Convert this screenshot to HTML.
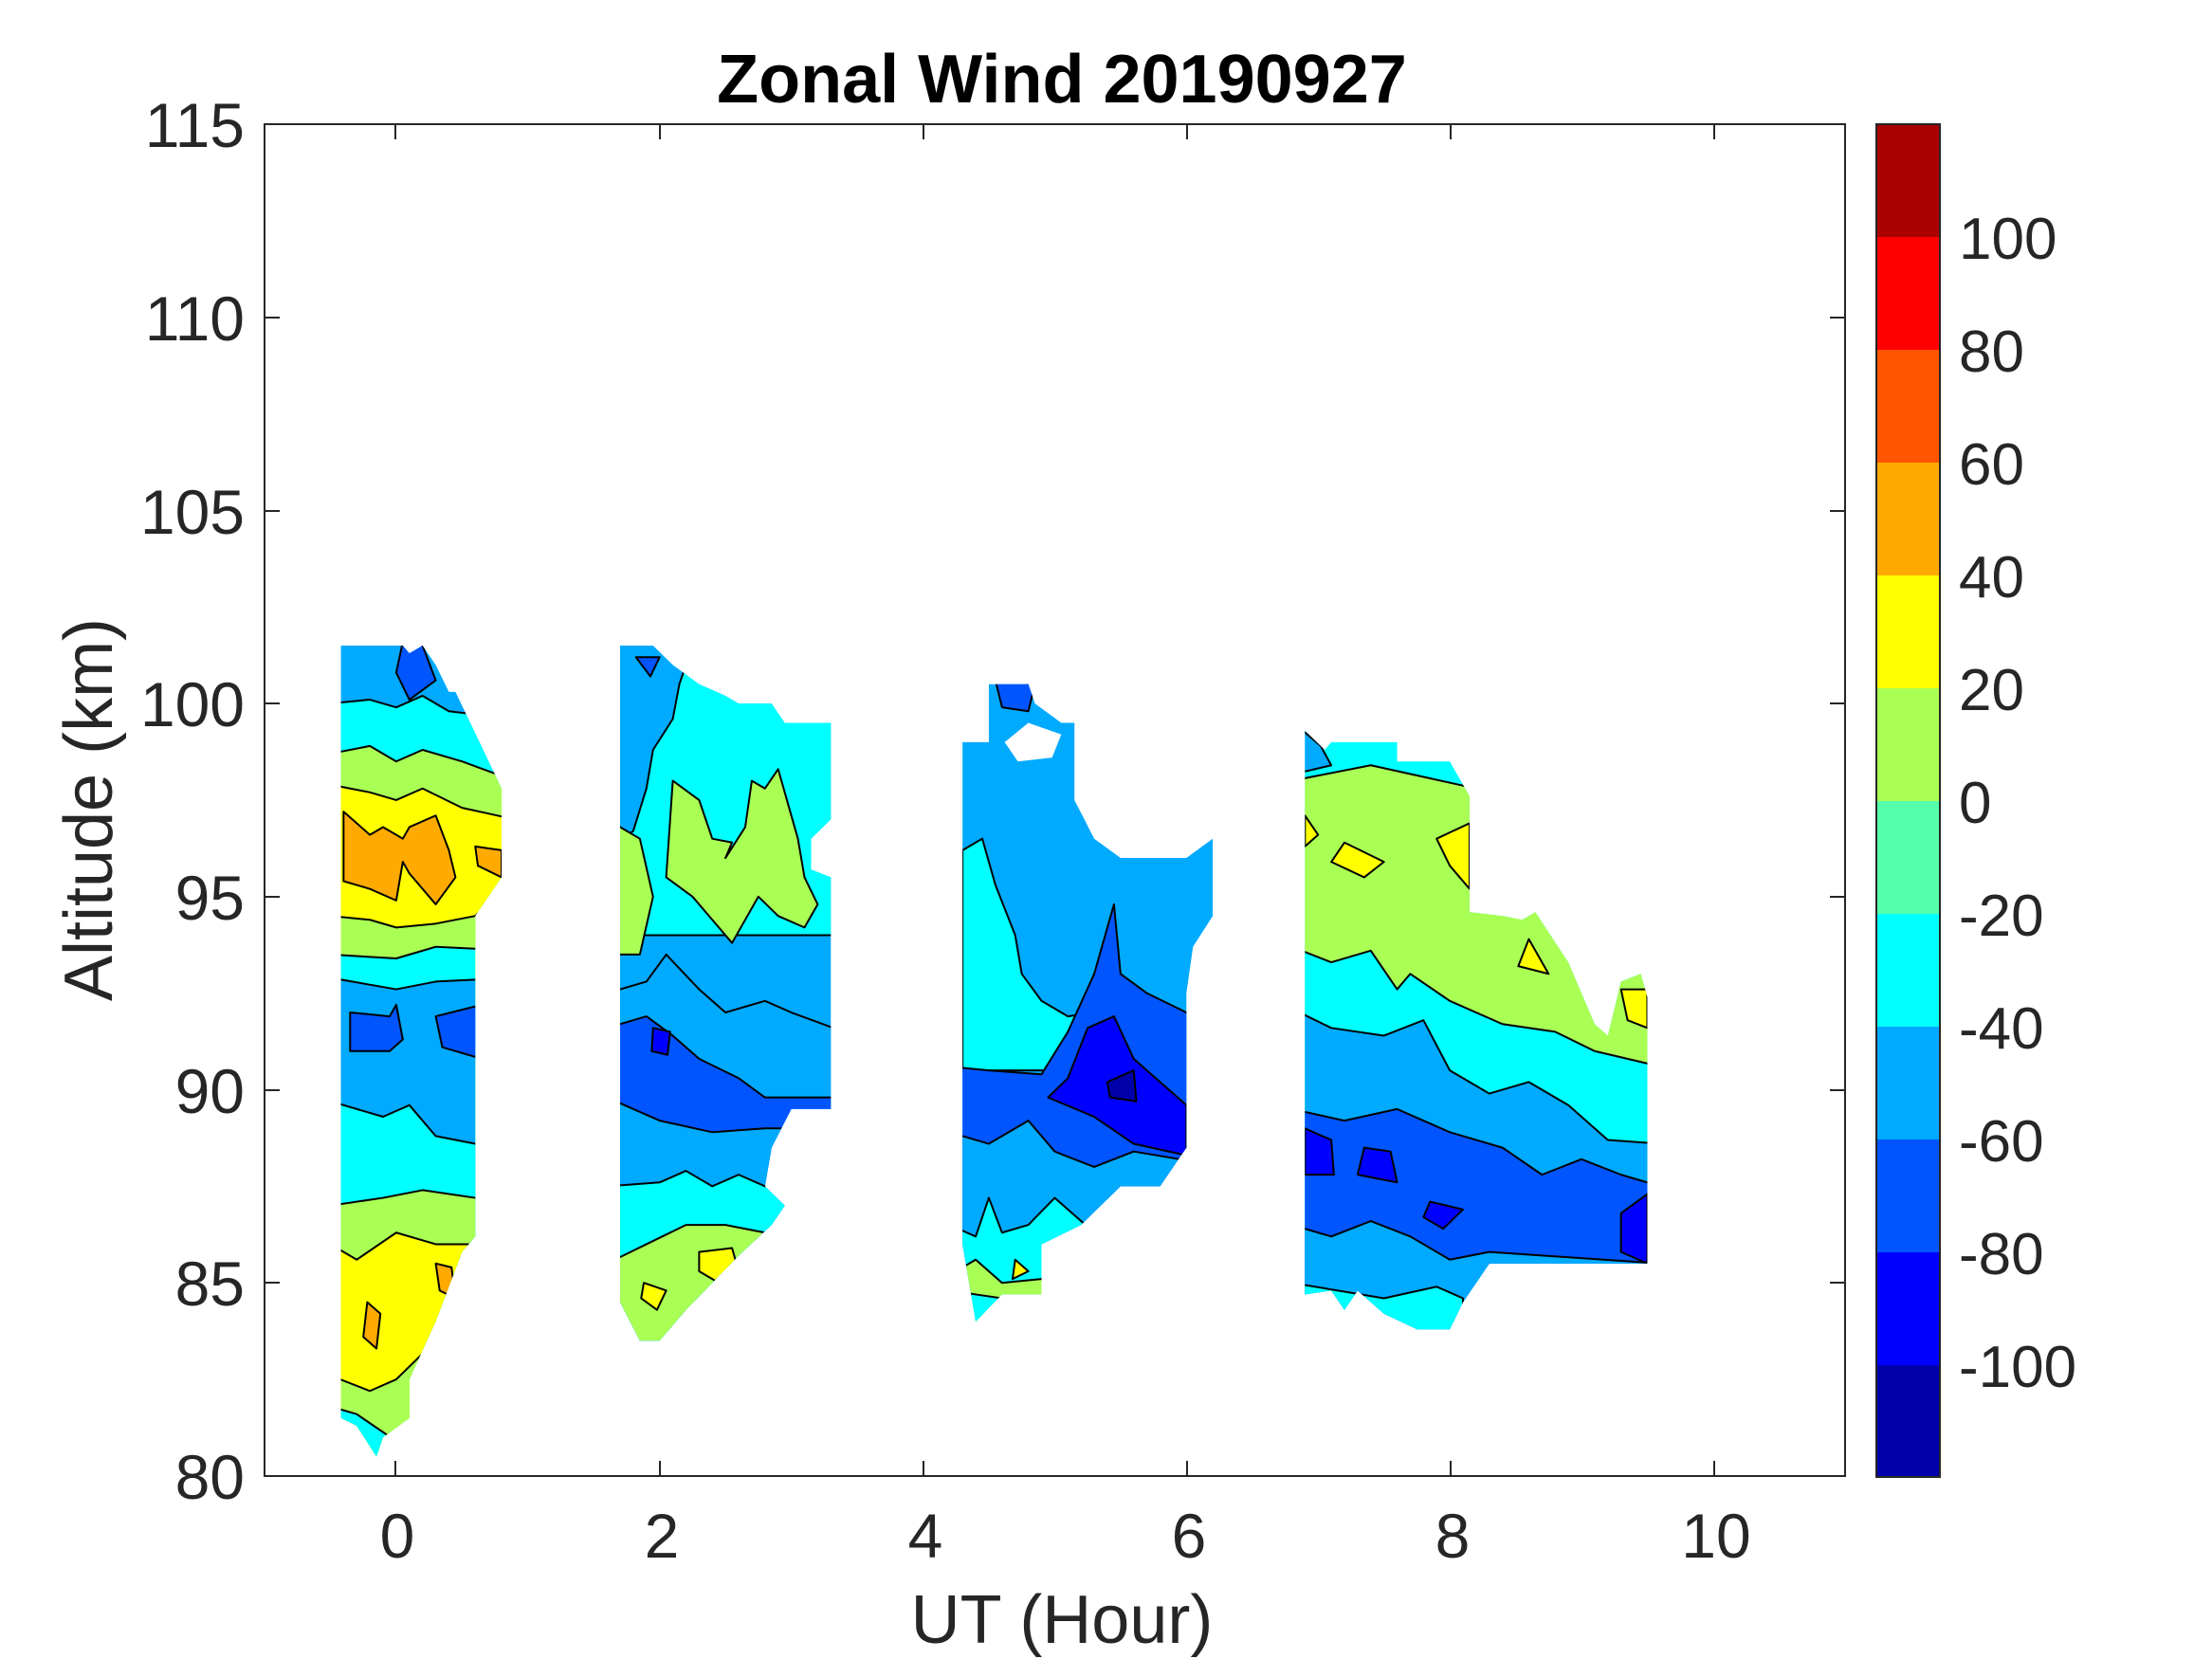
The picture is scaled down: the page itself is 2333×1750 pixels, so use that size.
<!DOCTYPE html>
<html><head><meta charset="utf-8"><style>
html,body{margin:0;padding:0;background:#fff;overflow:hidden;}
svg{display:block;}
text{font-family:"Liberation Sans",Arial,sans-serif;fill:#262626;}
.c{stroke:#000;stroke-width:2;vector-effect:non-scaling-stroke;stroke-linejoin:round;}
</style></head><body>
<svg width="2333" height="1750" viewBox="0 0 2333 1750" xmlns="http://www.w3.org/2000/svg">
<rect width="2333" height="1750" fill="#fff"/>
<defs>
<clipPath id="b1"><polygon points="-0.42,101.5 0.05,101.5 0.1,101.3 0.2,101.5 0.3,101 0.4,100.3 0.45,100.3 0.8,97.8 0.8,95.5 0.6,94.5 0.6,86.2 0.5,85.8 0.3,84 0.1,82.5 0.1,81.5 -0.1,81 -0.15,80.5 -0.3,81.3 -0.42,81.5"/></clipPath>
<clipPath id="b2"><polygon points="1.7,101.5 1.95,101.5 2.1,101 2.3,100.5 2.5,100.2 2.6,100 2.85,100 2.95,99.5 3.3,99.5 3.3,97 3.15,96.5 3.15,95.7 3.3,95.5 3.3,89.5 3.0,89.5 2.85,88.5 2.8,87.5 2.95,87 2.85,86.5 2.6,85.7 2.4,85 2.2,84.3 2.0,83.5 1.85,83.5 1.7,84.5"/></clipPath>
<clipPath id="b3"><polygon points="4.3,99 4.5,99 4.5,100.5 4.8,100.5 4.85,100 5.05,99.5 5.15,99.5 5.15,97.5 5.3,96.5 5.5,96 6.0,96 6.2,96.5 6.2,94.5 6.05,93.7 6.0,92.5 6.0,88.5 5.8,87.5 5.5,87.5 5.2,86.5 4.9,86 4.9,84.7 4.6,84.7 4.4,84 4.3,86"/></clipPath>
<clipPath id="b4"><polygon points="6.9,99.3 7.05,98.8 7.1,99 7.6,99 7.6,98.5 8.0,98.5 8.15,97.6 8.15,94.6 8.4,94.5 8.55,94.4 8.65,94.6 8.9,93.3 9.1,91.7 9.2,91.4 9.3,92.8 9.45,93 9.5,92.4 9.5,85.5 8.3,85.5 8.1,84.5 8.0,83.8 7.75,83.8 7.5,84.2 7.3,84.8 7.2,84.3 7.1,84.8 6.9,84.7 6.9,86"/></clipPath>
</defs>
<g transform="matrix(138.9 0 0 -40.74 417.9 4816.1)">
<g clip-path="url(#b1)">
<rect x="-1" y="79" width="3" height="24" fill="#00AAFF"/>
<polygon class="c" fill="#0055FF" points="0.05,101.6 0.2,101.5 0.3,100.6 0.1,100.1 0.0,100.8"/>
<polygon class="c" fill="#00FFFF" points="-0.5,100 -0.2,100.1 0,99.9 0.2,100.2 0.4,99.8 0.9,99.6 0.9,70 -0.5,70"/>
<polygon class="c" fill="#AAFF55" points="-0.5,98.7 -0.2,98.9 0,98.5 0.2,98.8 0.5,98.5 0.9,98 0.9,70 -0.5,70"/>
<polygon class="c" fill="#FFFF00" points="-0.5,97.9 -0.2,97.7 0,97.5 0.2,97.8 0.5,97.3 0.9,97 0.9,70 -0.5,70"/>
<polygon class="c" fill="#FFAA00" points="-0.4,97.2 -0.2,96.6 -0.1,96.8 0.05,96.5 0.1,96.8 0.3,97.1 0.4,96.2 0.45,95.5 0.3,94.8 0.1,95.6 0.05,95.9 0,94.9 -0.2,95.2 -0.4,95.4"/>
<polygon class="c" fill="#FFAA00" points="0.6,96.3 0.8,96.2 0.8,95.5 0.62,95.8"/>
<polygon class="c" fill="#AAFF55" points="-0.5,94.5 -0.2,94.4 0,94.2 0.3,94.3 0.6,94.5 0.9,95.5 0.9,70 -0.5,70"/>
<polygon class="c" fill="#00FFFF" points="-0.5,93.5 0,93.4 0.3,93.7 0.9,93.6 0.9,70 -0.5,70"/>
<polygon class="c" fill="#00AAFF" points="-0.5,92.9 0,92.6 0.3,92.8 0.9,92.9 0.9,70 -0.5,70"/>
<polygon class="c" fill="#0055FF" points="-0.35,92 -0.05,91.9 0,92.2 0.05,91.3 -0.05,91 -0.35,91"/>
<polygon class="c" fill="#0055FF" points="0.3,91.9 0.65,92.2 0.65,90.8 0.35,91.1"/>
<polygon class="c" fill="#00FFFF" points="-0.5,89.7 -0.1,89.3 0.1,89.6 0.3,88.8 0.6,88.6 0.9,88.6 0.9,70 -0.5,70"/>
<polygon class="c" fill="#AAFF55" points="-0.5,87 -0.1,87.2 0.2,87.4 0.6,87.2 0.9,87 0.9,70 -0.5,70"/>
<polygon class="c" fill="#FFFF00" points="-0.5,86 -0.3,85.6 0,86.3 0.3,86 0.6,86 0.9,86 0.9,70 -0.5,70"/>
<polygon class="c" fill="#FFAA00" points="0.3,85.5 0.42,85.4 0.45,84.6 0.33,84.8"/>
<polygon class="c" fill="#FFAA00" points="-0.22,84.5 -0.12,84.2 -0.15,83.3 -0.25,83.6"/>
<polygon class="c" fill="#AAFF55" points="-0.5,82.6 -0.2,82.2 0,82.5 0.3,83.5 0.9,84 0.9,70 -0.5,70"/>
<polygon class="c" fill="#00FFFF" points="-0.5,81.8 -0.3,81.6 0,80.9 0.9,80 0.9,70 -0.5,70"/>
</g>
<g clip-path="url(#b2)">
<rect x="1" y="79" width="3" height="24" fill="#00AAFF"/>
<polygon class="c" fill="#0055FF" points="1.82,101.2 2.0,101.2 1.93,100.7"/>
<polygon class="c" fill="#00FFFF" points="2.2,101 2.7,100.5 3.4,100 3.4,94 1.6,94 1.6,96.2 1.8,96.7 1.9,97.8 1.95,98.8 2.1,99.6 2.15,100.5"/>
<polygon class="c" fill="#AAFF55" points="1.6,97 1.85,96.5 1.95,95 1.85,93.5 1.6,93.5"/>
<polygon class="c" fill="#AAFF55" points="2.1,98 2.3,97.5 2.4,96.5 2.55,96.4 2.5,96 2.65,96.8 2.7,98 2.8,97.8 2.9,98.3 3.05,96.5 3.1,95.5 3.2,94.8 3.1,94.2 2.9,94.5 2.75,95 2.55,93.8 2.35,94.6 2.25,95 2.05,95.5"/>
<polygon class="c" fill="#00AAFF" points="1.6,92.5 1.9,92.8 2.05,93.5 2.3,92.6 2.5,92 2.8,92.3 3.0,92 3.4,91.5 3.4,70 1.6,70"/>
<polygon class="c" fill="#0055FF" points="1.6,91.6 1.9,91.9 2.1,91.4 2.3,90.8 2.6,90.3 2.8,89.8 3.4,89.8 3.4,70 1.6,70"/>
<polygon class="c" fill="#0000FF" points="1.95,91.6 2.08,91.5 2.06,90.9 1.94,91"/>
<polygon class="c" fill="#00AAFF" points="1.6,89.8 2,89.2 2.4,88.9 2.8,89 3.4,89 3.4,70 1.6,70"/>
<polygon class="c" fill="#00FFFF" points="1.6,87.5 2,87.6 2.2,87.9 2.4,87.5 2.6,87.8 2.8,87.5 3.4,87.3 3.4,70 1.6,70"/>
<polygon class="c" fill="#AAFF55" points="1.6,85.5 1.9,86 2.2,86.5 2.5,86.5 2.8,86.3 3.4,86 3.4,70 1.6,70"/>
<polygon class="c" fill="#FFFF00" points="2.3,85.8 2.55,85.9 2.6,85.3 2.45,85 2.3,85.3"/>
<polygon class="c" fill="#FFFF00" points="1.88,85 2.05,84.8 1.98,84.3 1.86,84.6"/>
</g>
<g clip-path="url(#b3)">
<rect x="4" y="79" width="3" height="24" fill="#00AAFF"/>
<polygon class="c" fill="#0055FF" points="4.55,100.6 4.85,100.5 4.8,99.8 4.6,99.9"/>
<polygon fill="#fff" points="4.62,99 4.8,99.5 5.05,99.2 4.98,98.6 4.72,98.5"/>
<polygon class="c" fill="#00FFFF" points="4.3,96.2 4.45,96.5 4.55,95.3 4.7,94 4.75,93 4.9,92.3 5.1,91.9 5.3,92 5.35,91.5 5.2,90.5 4.3,90.5"/>
<polygon class="c" fill="#0055FF" points="4.2,90.6 4.5,90.5 4.9,90.4 5.1,91.5 5.3,93 5.45,94.8 5.5,93 5.7,92.5 6.0,92 6.3,92 6.3,70 4.2,70"/>
<polygon class="c" fill="#0000FF" points="4.95,89.8 5.1,90.3 5.25,91.6 5.45,91.9 5.6,90.8 5.8,90.2 6.0,89.6 6.0,88.3 5.6,88.6 5.3,89.3"/>
<polygon class="c" fill="#0000AA" points="5.4,90.2 5.6,90.5 5.62,89.7 5.42,89.8"/>
<polygon class="c" fill="#00AAFF" points="4.2,88.9 4.5,88.6 4.8,89.2 5.0,88.4 5.3,88 5.6,88.4 6.3,88 6.3,70 4.2,70"/>
<polygon class="c" fill="#00FFFF" points="4.2,86.5 4.4,86.2 4.5,87.2 4.6,86.3 4.8,86.5 5.0,87.2 5.3,86.3 6.3,86 6.3,70 4.2,70"/>
<polygon class="c" fill="#AAFF55" points="4.2,85.2 4.4,85.6 4.6,85 4.9,85.1 6.3,85 6.3,70 4.2,70"/>
<polygon class="c" fill="#FFFF00" points="4.7,85.6 4.8,85.3 4.68,85.1"/>
<polygon class="c" fill="#00FFFF" points="4.2,84.8 4.8,84.5 6.3,84 6.3,70 4.2,70"/>
</g>
<g clip-path="url(#b4)">
<rect x="6.5" y="79" width="3.5" height="24" fill="#00FFFF"/>
<polygon class="c" fill="#00AAFF" points="6.85,99.4 7.02,98.9 7.1,98.4 6.85,98.2"/>
<polygon class="c" fill="#AAFF55" points="6.8,98 7.1,98.2 7.4,98.4 7.8,98.1 8.2,97.8 9.6,97 9.6,70 6.8,70"/>
<polygon class="c" fill="#FFFF00" points="7.2,96.4 7.5,95.9 7.35,95.5 7.1,95.9"/>
<polygon class="c" fill="#FFFF00" points="7.9,96.5 8.15,96.9 8.15,95.2 8.0,95.8"/>
<polygon class="c" fill="#FFFF00" points="8.6,93.9 8.75,93 8.52,93.2"/>
<polygon class="c" fill="#FFFF00" points="9.3,92.6 9.5,92.6 9.5,91.6 9.35,91.8"/>
<polygon class="c" fill="#FFFF00" points="6.9,97.1 7.0,96.6 6.9,96.3"/>
<polygon class="c" fill="#00FFFF" points="6.8,93.7 7.1,93.3 7.4,93.6 7.6,92.6 7.7,93 8.0,92.3 8.4,91.7 8.8,91.5 9.1,91 9.6,90.6 9.6,70 6.8,70"/>
<polygon class="c" fill="#00AAFF" points="6.8,92.1 7.1,91.6 7.5,91.4 7.8,91.8 8.0,90.5 8.3,89.9 8.6,90.2 8.9,89.6 9.2,88.7 9.6,88.6 9.6,70 6.8,70"/>
<polygon class="c" fill="#0055FF" points="6.8,89.5 7.2,89.2 7.6,89.5 8.0,88.9 8.4,88.5 8.7,87.8 9.0,88.2 9.3,87.8 9.6,87.5 9.6,70 6.8,70"/>
<polygon class="c" fill="#0000FF" points="6.9,89 7.1,88.7 7.12,87.8 6.9,87.8"/>
<polygon class="c" fill="#0000FF" points="7.35,88.5 7.55,88.4 7.6,87.6 7.3,87.8"/>
<polygon class="c" fill="#0000FF" points="7.85,87.1 8.1,86.9 7.95,86.4 7.8,86.7"/>
<polygon class="c" fill="#0000FF" points="9.3,86.8 9.5,87.3 9.5,85.5 9.3,85.8"/>
<polygon class="c" fill="#00AAFF" points="6.8,86.5 7.1,86.2 7.4,86.6 7.7,86.2 8.0,85.6 8.3,85.8 9.6,85.5 9.6,70 6.8,70"/>
<polygon class="c" fill="#00FFFF" points="6.8,85 7.5,84.6 7.9,84.9 8.1,84.6 8.1,70 6.8,70"/>
</g>
</g>
<rect x="279" y="131" width="1667" height="1426" fill="none" stroke="#262626" stroke-width="2"/>
<g stroke="#262626" stroke-width="2">
<line x1="417" y1="1557" x2="417" y2="1541"/><line x1="417" y1="131" x2="417" y2="147"/>
<line x1="696" y1="1557" x2="696" y2="1541"/><line x1="696" y1="131" x2="696" y2="147"/>
<line x1="974" y1="1557" x2="974" y2="1541"/><line x1="974" y1="131" x2="974" y2="147"/>
<line x1="1252" y1="1557" x2="1252" y2="1541"/><line x1="1252" y1="131" x2="1252" y2="147"/>
<line x1="1530" y1="1557" x2="1530" y2="1541"/><line x1="1530" y1="131" x2="1530" y2="147"/>
<line x1="1808" y1="1557" x2="1808" y2="1541"/><line x1="1808" y1="131" x2="1808" y2="147"/>
<line x1="279" y1="335" x2="295" y2="335"/><line x1="1946" y1="335" x2="1930" y2="335"/>
<line x1="279" y1="539" x2="295" y2="539"/><line x1="1946" y1="539" x2="1930" y2="539"/>
<line x1="279" y1="742" x2="295" y2="742"/><line x1="1946" y1="742" x2="1930" y2="742"/>
<line x1="279" y1="946" x2="295" y2="946"/><line x1="1946" y1="946" x2="1930" y2="946"/>
<line x1="279" y1="1150" x2="295" y2="1150"/><line x1="1946" y1="1150" x2="1930" y2="1150"/>
<line x1="279" y1="1353" x2="295" y2="1353"/><line x1="1946" y1="1353" x2="1930" y2="1353"/>
</g>
<g font-size="66" text-anchor="end">
<text x="258" y="155">115</text><text x="258" y="359">110</text><text x="258" y="563">105</text>
<text x="258" y="766">100</text><text x="258" y="970">95</text><text x="258" y="1174">90</text>
<text x="258" y="1377">85</text><text x="258" y="1581">80</text>
</g>
<g font-size="66" text-anchor="middle">
<text x="419" y="1661" dy="-18">0</text><text x="698" y="1661" dy="-18">2</text><text x="976" y="1661" dy="-18">4</text>
<text x="1254" y="1661" dy="-18">6</text><text x="1532" y="1661" dy="-18">8</text><text x="1810" y="1661" dy="-18">10</text>
</g>
<text x="1120" y="1733" font-size="72" text-anchor="middle">UT (Hour)</text>
<text transform="translate(118,854) rotate(-90)" font-size="72" text-anchor="middle">Altitude (km)</text>
<text x="1120" y="108" font-size="72" font-weight="bold" text-anchor="middle" style="fill:#000">Zonal Wind 20190927</text>
<g>
<rect x="1979" y="131" width="67" height="119" fill="#AA0000"/>
<rect x="1979" y="250" width="67" height="119" fill="#FF0000"/>
<rect x="1979" y="369" width="67" height="119" fill="#FF5500"/>
<rect x="1979" y="488" width="67" height="119" fill="#FFAA00"/>
<rect x="1979" y="607" width="67" height="119" fill="#FFFF00"/>
<rect x="1979" y="726" width="67" height="119" fill="#AAFF55"/>
<rect x="1979" y="845" width="67" height="119" fill="#55FFAA"/>
<rect x="1979" y="964" width="67" height="119" fill="#00FFFF"/>
<rect x="1979" y="1083" width="67" height="119" fill="#00AAFF"/>
<rect x="1979" y="1202" width="67" height="119" fill="#0055FF"/>
<rect x="1979" y="1321" width="67" height="119" fill="#0000FF"/>
<rect x="1979" y="1440" width="67" height="118" fill="#0000AA"/>
<rect x="1979" y="131" width="67" height="1427" fill="none" stroke="#262626" stroke-width="2"/>
</g>
<g font-size="62">
<text x="2066" y="273">100</text><text x="2066" y="392">80</text><text x="2066" y="511">60</text>
<text x="2066" y="630">40</text><text x="2066" y="749">20</text><text x="2066" y="868">0</text>
<text x="2066" y="987">-20</text><text x="2066" y="1106">-40</text><text x="2066" y="1225">-60</text>
<text x="2066" y="1344">-80</text><text x="2066" y="1463">-100</text>
</g>
</svg>
</body></html>
